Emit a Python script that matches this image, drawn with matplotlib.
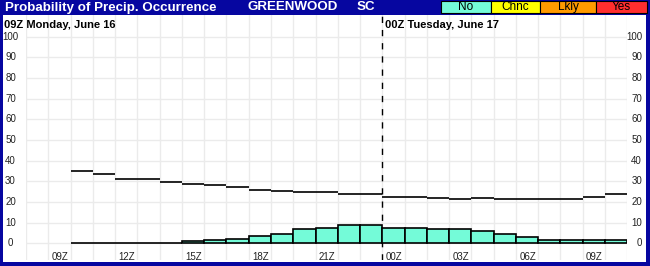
import matplotlib
matplotlib.use("Agg")
import matplotlib.pyplot as plt
from matplotlib.patches import Rectangle
from matplotlib.transforms import blended_transform_factory

plt.rcParams['font.family'] = ['Liberation Sans', 'DejaVu Sans']

# hours after 09Z Monday, each value covers [hour, hour+1)
hours = list(range(1, 26))
upper = [35.3, 33.4, 31, 31, 29.8, 29, 28.1, 27.1, 26.1, 25.5, 25, 24.8,
         23.9, 23.9, 22.7, 22.3, 21.8, 21.3, 21.8, 21.3, 21.3, 21.3, 21.3,
         22.3, 23.9]
pop = [0, 0, 0, 0, 0, 1.0, 1.9, 2.4, 3.4, 4.8, 6.8, 7.7, 8.7, 8.7, 7.7, 7.7,
       7.1, 7.1, 5.8, 4.4, 2.9, 1.9, 1.5, 1.5, 1.5]

tick_hours = [0, 3, 6, 9, 12, 15, 18, 21, 24]
tick_labels = ['09Z', '12Z', '15Z', '18Z', '21Z', '00Z', '03Z', '06Z', '09Z']
y_ticks = [0, 10, 20, 30, 40, 50, 60, 70, 80, 90, 100]

legend_names = ['No', 'Chnc', 'Lkly', 'Yes']
legend_colors = ['#74FBD8', '#FFFF00', '#FF9A00', '#FF2E2E']
legend_edges = [440.7, 490.7, 540.3, 595.7, 646.5]

W, H = 650, 266
blue = '#0606A0'

fig = plt.figure(figsize=(W / 100, H / 100), dpi=100, facecolor=blue)

def px(x, y):
    return x / W, 1 - y / H

# white body inside the blue frame
fig.add_artist(Rectangle(px(3, 262), (646 - 3) / W, (262 - 14.5) / H,
                         transform=fig.transFigure, facecolor='white',
                         edgecolor='none', zorder=0))

ax = fig.add_axes([26 / W, 1 - 260 / H, (627.3 - 26) / W, (260 - 14.5) / H])
ax.set_facecolor('none')
ax.set_xlim(-1, 26)
ax.set_ylim(-8, 110.8)
for s in ax.spines.values():
    s.set_visible(False)
ax.set_xticks([])
ax.set_yticks([])

for h in range(-1, 27):
    ax.axvline(h, color='#ebebeb', lw=1, zorder=1)
for v in y_ticks:
    ax.axhline(v, color='#ebebeb', lw=1, zorder=1)

ax.axvline(15, color='black', lw=1, ls=(0, (4.5, 5)), zorder=2)

ax.bar(hours, pop, width=1, align='edge', color=legend_colors[0],
       edgecolor='black', lw=1.2, zorder=3)
ax.hlines(upper, hours, [h + 1 for h in hours], color='black', lw=1.2,
          zorder=3)

for h, lab in zip(tick_hours, tick_labels):
    ax.text(h + 0.15, -6.6, lab, fontsize=7, color='#222222', ha='left',
            va='center', zorder=4)

# y labels on both sides, x in figure pixels, y in data units
tl = blended_transform_factory(fig.transFigure, ax.transData)
for v in y_ticks:
    ax.text(10.5 / W, v, str(v), transform=tl, fontsize=7, color='#222222',
            ha='center', va='center', clip_on=False, zorder=5)
    ax.text(642 / W, v, str(v), transform=tl, fontsize=7, color='#222222',
            ha='right', va='center', clip_on=False, zorder=5)

# header
hdr = dict(color='white', fontsize=9.6, fontweight='bold', ha='left',
           va='center')
fig.text(*px(5, 7.5), 'Probability of Precip. Occurrence', **hdr)
fig.text(*px(248, 7.5), 'GREENWOOD', **hdr)
fig.text(*px(357, 7.5), 'SC', **hdr)

for i, name in enumerate(legend_names):
    x0, x1 = legend_edges[i], legend_edges[i + 1]
    fig.add_artist(Rectangle(px(x0, 13), (x1 - x0) / W, 12 / H,
                             transform=fig.transFigure,
                             facecolor=legend_colors[i], edgecolor='black',
                             lw=0.8))
    fig.text(*px((x0 + x1) / 2, 7.3), name, color='black', fontsize=8.5,
             ha='center', va='center')

fig.text(*px(4, 24.5), '09Z Monday, June 16', color='black', fontsize=8,
         fontweight='bold', ha='left', va='center')
fig.text(*px(385, 24.5), '00Z Tuesday, June 17', color='black', fontsize=8,
         fontweight='bold', ha='left', va='center')

fig.savefig('out.png', dpi=100, facecolor=blue)
